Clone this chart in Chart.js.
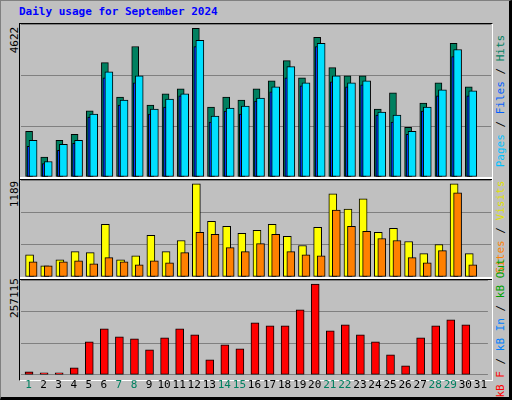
<!DOCTYPE html>
<html><head><meta charset="utf-8">
<script src="https://cdn.jsdelivr.net/npm/chart.js@4"></script>
<style>
html,body{margin:0;padding:0;background:#fff;}
#frame{position:absolute;left:0;top:0;width:508px;height:396px;background:#c0c0c0;border-right:3px solid #000;border-bottom:3px solid #000;border-top:1px solid #808080;border-left:1px solid #808080;box-sizing:content-box;}
.t{position:absolute;font-family:"DejaVu Sans Mono",monospace;font-size:11px;white-space:nowrap;}
.rot{transform:translate(-50%,-50%) rotate(-90deg);transform-origin:center;}
.box{position:absolute;}
canvas{display:block}
</style></head><body>
<div id="frame"></div>
<div class="t" style="left:19px;top:5px;color:#0000ff;font-weight:bold;">Daily usage for September 2024</div>
<div id="plotbg" style="position:absolute;left:19px;top:23px;width:472px;height:356px;border-top:1px solid #000;border-left:1px solid #000;border-right:1px solid #fff;border-bottom:1px solid #fff;"></div>
<div style="position:absolute;left:20px;top:177px;width:472px;height:2px;background:#fff;border-bottom:1px solid #000"></div>
<div style="position:absolute;left:20px;top:277px;width:472px;height:2px;background:#fff;border-bottom:1px solid #000"></div>
<div class="box" style="left:21px;top:24px;width:470px;height:153px"><canvas id="c1"></canvas></div>
<div class="box" style="left:21px;top:180px;width:470px;height:97px"><canvas id="c2"></canvas></div>
<div class="box" style="left:21px;top:280px;width:470px;height:116px"><canvas id="c3"></canvas></div>
<div class="t rot" style="left:14px;top:40px;">4622</div>
<div class="t rot" style="left:14px;top:194px;">1189</div>
<div class="t rot" style="left:14px;top:298px;">257115</div>
<div class="t rot" style="left:500px;top:101px;"><span style="color:#00c0ff">Pages</span> / <span style="color:#0060ff">Files</span> / <span style="color:#008060">Hits</span></div>
<div class="t rot" style="left:500px;top:227px;"><span style="color:#ff8000">Sites</span> / <span style="color:#e0e000">Visits</span></div>
<div class="t rot" style="left:500px;top:328px;"><span style="color:#ff0000">kB F</span> / <span style="color:#0080ff">kB In</span> / <span style="color:#00a000">kB Out</span></div>
<script>
const days = ['1','2','3','4','5','6','7','8','9','10','11','12','13','14','15','16','17','18','19','20','21','22','23','24','25','26','27','28','29','30','31'];
const weekendDays = ['1','7','8','14','15','21','22','28','29'];
const hits  = [1423,617,1140,1328,2061,3556,2489,4058,2238,2584,2741,4622,2176,2489,2395,2741,2992,3619,3086,4341,3400,3148,3148,2113,2615,1548,2301,2929,4153,2803,0];
const files = [1140,481,1015,1140,1956,3274,2395,3148,2113,2427,2584,4247,1893,2144,2207,2458,2803,3431,2929,4153,3148,2929,2992,2019,1925,1423,2176,2709,3964,2678,0];
const pages = [952,418,826,1046,1862,3086,2238,2929,1956,2176,2521,4058,1705,2050,1956,2364,2646,3086,2835,4058,2960,2803,2866,1925,1705,1328,2050,2521,3745,2521,0];
const visits= [284,142,220,323,310,672,220,271,530,323,465,1189,711,646,556,594,672,517,401,633,1060,866,995,569,620,452,297,414,1189,297,0];
const sites = [194,142,194,207,168,246,194,155,207,181,310,569,543,375,323,426,543,323,284,271,853,646,582,491,465,246,181,336,1073,155,0];
const kbytes= [8476,5651,5651,19778,93238,129968,107365,101714,70635,104540,129968,113016,42381,84762,73460,146921,138445,138445,183651,257115,124318,141270,113016,93238,56508,25429,104540,138445,155397,141270,0];
const maxHits=4622, maxVisits=1189, maxKB=257115;

const shift={id:'shift',afterDatasetsUpdate(chart){
  chart.data.datasets.forEach((ds,i)=>{const off=ds.xOff||0;
    chart.getDatasetMeta(i).data.forEach(el=>{el.x+=off;});});
}};
function mk(id,datasets,axMax,showX){
  return new Chart(document.getElementById(id),{type:'bar',
    data:{labels:days,datasets},
    plugins:[shift],
    options:{responsive:true,maintainAspectRatio:false,animation:false,
      layout:{padding:0},
      plugins:{legend:{display:false},tooltip:{enabled:false}},
      scales:{
        x:{display:showX,grid:{display:false,drawTicks:false},border:{display:false},
           ticks:{padding:4,autoSkip:false,maxRotation:0,font:{family:'DejaVu Sans Mono',size:11},
             color:c=>weekendDays.includes(days[c.index])?'#008060':'#000'}},
        y:{min:0,max:axMax,afterFit:s=>{s.width=0;},ticks:{display:false,stepSize:axMax/3},
           grid:{color:'#808080',lineWidth:1,drawTicks:false},border:{display:false}}
      }}});
}
const common={borderColor:'#000',borderWidth:1,grouped:false,borderSkipped:false};
mk('c1',[
  {...common,data:hits,backgroundColor:'#008060',barThickness:7,xOff:0.5,order:3},
  {...common,data:pages,backgroundColor:'#0040ff',barThickness:3,xOff:0,order:2},
  {...common,data:files,backgroundColor:'#00e0ff',barThickness:8,xOff:4.5,order:1}
],maxHits*455/442,false);
mk('c2',[
  {...common,data:visits,backgroundColor:'#ffff00',barThickness:8,xOff:1,order:2},
  {...common,data:sites,backgroundColor:'#ff8000',barThickness:8,xOff:4.5,order:1}
],maxVisits*287/276,false);
mk('c3',[
  {...common,data:kbytes,backgroundColor:'#ff0000',barThickness:8,xOff:0.5,order:1}
],maxKB*285/273,true);
</script>
</body></html>
